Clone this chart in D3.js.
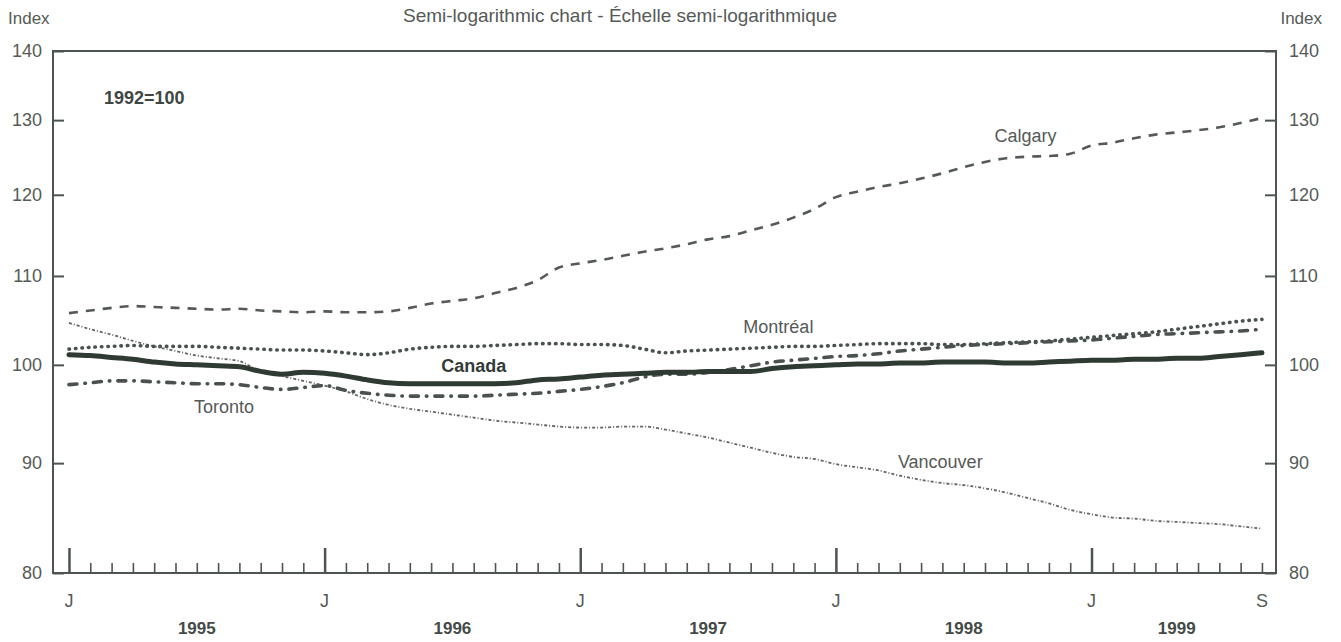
<!DOCTYPE html>
<html>
<head>
<meta charset="utf-8">
<script src="https://cdn.jsdelivr.net/npm/d3@7/dist/d3.min.js"></script>
<style>
  html, body { margin: 0; padding: 0; background: #ffffff; }
  svg { display: block; }
  text { font-family: "Liberation Sans", Arial, Helvetica, sans-serif; }
</style>
</head>
<body>
<svg id="chart" width="1341" height="642"></svg>
<script>
// ---------- DATA ----------
// Monthly index, January 1995 .. September 1999 (57 months), 1992=100
const startYear = 1995;
const monthCount = 57;
const yearLabels = ["1995", "1996", "1997", "1998", "1999"];
const yTicks = [80, 90, 100, 110, 120, 130, 140];

const canada = [101.1, 101.0, 100.8, 100.6, 100.3, 100.1, 100.0, 99.9, 99.8, 99.3,
  99.0, 99.2, 99.1, 98.8, 98.4, 98.1, 98.0, 98.0, 98.0, 98.0,
  98.0, 98.1, 98.4, 98.5, 98.7, 98.9, 99.0, 99.1, 99.2, 99.2,
  99.3, 99.3, 99.3, 99.6, 99.8, 99.9, 100.0, 100.1, 100.1, 100.2,
  100.2, 100.3, 100.3, 100.3, 100.2, 100.2, 100.3, 100.4, 100.5, 100.5,
  100.6, 100.6, 100.7, 100.7, 100.9, 101.1, 101.3];

const calgary = [105.7, 106.0, 106.3, 106.5, 106.4, 106.3, 106.2, 106.1, 106.2, 106.0,
  105.9, 105.8, 105.9, 105.8, 105.8, 105.9, 106.3, 106.8, 107.1, 107.4,
  108.0, 108.6, 109.5, 111.0, 111.5, 111.9, 112.4, 112.9, 113.3, 113.8,
  114.4, 114.8, 115.5, 116.2, 117.1, 118.2, 119.7, 120.4, 121.0, 121.5,
  122.1, 122.8, 123.6, 124.3, 124.8, 125.0, 125.1, 125.4, 126.5, 126.9,
  127.5, 128.0, 128.3, 128.6, 129.0, 129.6, 130.3];

const montreal = [101.7, 101.9, 102.0, 102.1, 102.0, 102.0, 102.0, 101.9, 101.8, 101.7,
  101.6, 101.6, 101.5, 101.3, 101.1, 101.3, 101.7, 101.9, 102.0, 102.0,
  102.1, 102.2, 102.3, 102.3, 102.2, 102.2, 102.1, 101.7, 101.3, 101.5,
  101.6, 101.7, 101.8, 101.9, 102.0, 102.0, 102.1, 102.2, 102.3, 102.3,
  102.3, 102.2, 102.2, 102.3, 102.4, 102.5, 102.6, 102.8, 103.0, 103.2,
  103.4, 103.6, 103.9, 104.2, 104.5, 104.8, 105.0];

const toronto = [97.9, 98.1, 98.3, 98.3, 98.2, 98.1, 98.0, 98.0, 97.9, 97.6,
  97.4, 97.6, 97.8, 97.3, 97.0, 96.8, 96.7, 96.7, 96.7, 96.7,
  96.8, 96.9, 97.0, 97.2, 97.4, 97.7, 98.1, 98.7, 99.0, 99.0,
  99.2, 99.5, 99.9, 100.3, 100.5, 100.7, 100.9, 101.0, 101.2, 101.5,
  101.7, 101.9, 102.1, 102.2, 102.3, 102.4, 102.5, 102.6, 102.7, 102.9,
  103.1, 103.3, 103.4, 103.5, 103.6, 103.7, 103.9];

const vancouver = [104.6, 103.9, 103.3, 102.6, 102.0, 101.5, 101.0, 100.7, 100.4, 99.3,
  98.8, 98.3, 97.8, 97.2, 96.4, 95.8, 95.4, 95.1, 94.8, 94.5,
  94.2, 94.0, 93.8, 93.6, 93.5, 93.5, 93.6, 93.6, 93.3, 92.9,
  92.5, 92.0, 91.5, 91.0, 90.6, 90.4, 89.9, 89.6, 89.3, 88.8,
  88.4, 88.1, 87.9, 87.6, 87.2, 86.7, 86.2, 85.6, 85.2, 84.9,
  84.8, 84.6, 84.5, 84.4, 84.3, 84.1, 83.9];

const seriesNames = ["Calgary", "Montréal", "Canada", "Toronto", "Vancouver"];

// ---------- LAYOUT ----------
const svg = d3.select("#chart");
const L = 53, R = 1276, T = 51, B = 573;
const txt = "#555a57";

const x = d3.scaleLinear().domain([-0.75, 56.66]).range([L, R]);
const y = d3.scaleLog().domain([80, 140]).range([B, T]);

const months = d3.range(monthCount);

// frame
svg.append("path")
  .attr("d", `M${L},${T}H${R}V${B}H${L}Z`)
  .attr("fill", "none").attr("stroke", "#4d5550").attr("stroke-width", 2);

// y axes (ticks inward)
const yAxisL = d3.axisRight(y).tickValues(yTicks).tickSize(11).tickFormat("");
const gL = svg.append("g").attr("transform", `translate(${L},0)`).call(yAxisL);
const yAxisR = d3.axisLeft(y).tickValues(yTicks).tickSize(11).tickFormat("");
const gR = svg.append("g").attr("transform", `translate(${R},0)`).call(yAxisR);
[gL, gR].forEach(g => {
  g.select(".domain").remove();
  g.selectAll("line").attr("stroke", "#4d5550").attr("stroke-width", 2);
});

// y tick labels
svg.append("g").selectAll("text").data(yTicks).join("text")
  .attr("x", 42).attr("y", d => y(d) + 6)
  .attr("text-anchor", "end").attr("font-size", 18).attr("fill", txt)
  .text(d => d);
svg.append("g").selectAll("text").data(yTicks).join("text")
  .attr("x", 1289).attr("y", d => y(d) + 6)
  .attr("text-anchor", "start").attr("font-size", 18).attr("fill", txt)
  .text(d => d);

// x axis month ticks
const xAxis = d3.axisTop(x).tickValues(months)
  .tickSize(0).tickFormat("");
const gX = svg.append("g").attr("transform", `translate(0,${B})`).call(xAxis);
gX.select(".domain").remove();
gX.selectAll(".tick line")
  .attr("y2", d => d % 12 === 0 ? -25 : -10)
  .attr("stroke", "#4d5550")
  .attr("stroke-width", d => d % 12 === 0 ? 2.5 : 1.6);

// month letters (J each January, S at the end)
const monthLetters = months.filter(m => m % 12 === 0 || m === monthCount - 1);
svg.append("g").selectAll("text").data(monthLetters).join("text")
  .attr("x", d => x(d)).attr("y", 607)
  .attr("text-anchor", "middle").attr("font-size", 18).attr("fill", txt)
  .text(d => d === monthCount - 1 ? "S" : "J");

// year labels
svg.append("g").selectAll("text").data(yearLabels).join("text")
  .attr("x", (d, i) => {
    const a = i * 12, b = Math.min(i * 12 + 12, monthCount - 1);
    return x((a + b) / 2);
  })
  .attr("y", 634)
  .attr("text-anchor", "middle").attr("font-size", 17).attr("font-weight", "bold")
  .attr("fill", "#444a46")
  .text(d => d);

// headers
svg.append("text").attr("x", 8).attr("y", 24).attr("font-size", 17).attr("fill", txt).text("Index");
svg.append("text").attr("x", 1322).attr("y", 24).attr("text-anchor", "end").attr("font-size", 17).attr("fill", txt).text("Index");
svg.append("text").attr("x", 620).attr("y", 22).attr("text-anchor", "middle").attr("font-size", 19).attr("fill", txt)
  .text("Semi-logarithmic chart - Échelle semi-logarithmique");
svg.append("text").attr("x", 104).attr("y", 104).attr("font-size", 18).attr("font-weight", "bold").attr("fill", "#3f4642")
  .text("1992=100");

// ---------- SERIES ----------
const line = d3.line().x((d, i) => x(i)).y(d => y(d)).curve(d3.curveMonotoneX);

const styles = [
  { data: vancouver, w: 1.8, dash: "3,2,1,2", color: "#5f6662", cap: "butt" },
  { data: calgary, w: 2.6, dash: "9,8", color: "#545b57", cap: "butt" },
  { data: montreal, w: 3.6, dash: "0.5,6", color: "#4a524d", cap: "round" },
  { data: toronto, w: 3.6, dash: "8,8,0.5,8", color: "#4a524d", cap: "round" },
  { data: canada, w: 5, dash: null, color: "#2f3a33", cap: "round" }
];
styles.forEach(s => {
  svg.append("path").datum(s.data)
    .attr("d", line)
    .attr("fill", "none")
    .attr("stroke", s.color)
    .attr("stroke-width", s.w)
    .attr("stroke-linecap", s.cap)
    .attr("stroke-dasharray", s.dash);
});

// ---------- SERIES LABELS ----------
const labels = [
  { name: "Calgary", m: 44.9, v: 127.0, bold: false },
  { name: "Montréal", m: 33.3, v: 103.5, bold: false },
  { name: "Canada", m: 19.0, v: 99.2, bold: true },
  { name: "Toronto", m: 7.28, v: 95.0, bold: false },
  { name: "Vancouver", m: 40.9, v: 89.5, bold: false }
];
svg.append("g").selectAll("text").data(labels).join("text")
  .attr("x", d => x(d.m)).attr("y", d => y(d.v))
  .attr("text-anchor", "middle")
  .attr("font-size", 18)
  .attr("font-weight", d => d.bold ? "bold" : "normal")
  .attr("fill", d => d.bold ? "#333b36" : txt)
  .text(d => d.name);
</script>
</body>
</html>
